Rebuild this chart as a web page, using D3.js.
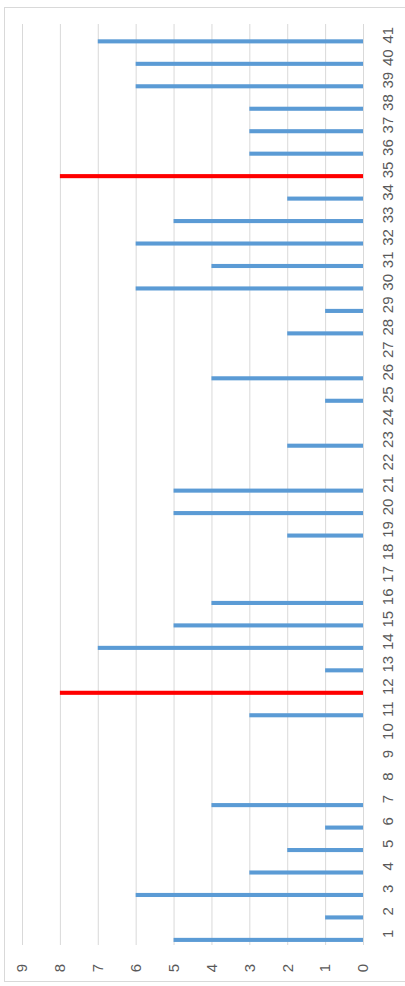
<!DOCTYPE html>
<html>
<head>
<meta charset="utf-8">
<script src="https://cdn.jsdelivr.net/npm/d3@7"></script>
<style>
  body { margin: 0; background: #fff; }
  svg { display: block; }
  .axis text { fill: #595959; font-family: "Liberation Sans", Arial, sans-serif; font-size: 15px; }
  .grid line { stroke: #d9d9d9; stroke-width: 1; }
</style>
</head>
<body>
<div id="chart"></div>
<script>
// categories 1..41
var categories = ["1","2","3","4","5","6","7","8","9","10","11","12","13","14","15","16","17","18","19","20",
                  "21","22","23","24","25","26","27","28","29","30","31","32","33","34","35","36","37","38","39","40","41"];
var values = [5,1,6,3,2,1,4,0,0,0,3,8,1,7,5,4,0,0,2,5,
              5,0,2,0,1,4,0,2,1,6,4,6,5,2,8,3,3,3,6,6,7];
var highlighted = ["12","35"];   // drawn in red
var seriesNames = ["Series1","Series2","Series3","Series4"]; // excel cluster slots, only first one filled
var valueTicks = [0,1,2,3,4,5,6,7,8,9];

var width = 405, height = 986;
var margin = {left: 22, bottom: 945, top: 24, right: 363};

// chart is an ordinary column chart turned 90 degrees counter-clockwise
var W = margin.bottom - margin.top;   // length of category axis
var H = margin.right - margin.left;   // length of value axis

var svg = d3.select("#chart").append("svg")
    .attr("width", width)
    .attr("height", height);

svg.append("rect")
    .attr("x", 4.5).attr("y", 7.5)
    .attr("width", 420).attr("height", 974)
    .attr("fill", "#fff")
    .attr("stroke", "#d9d9d9");

var g = svg.append("g")
    .attr("transform", "translate(" + margin.left + "," + margin.bottom + ") rotate(-90)");

var x = d3.scaleBand()
    .domain(categories)
    .range([0, W])
    .paddingInner(0).paddingOuter(0);

var slot = d3.scaleBand()
    .domain(seriesNames)
    .range([0, x.bandwidth()])
    .paddingInner(0).paddingOuter(0.75);

var y = d3.scaleLinear()
    .domain([0, 9])
    .range([H, 0]);

// grid + value labels
var yAxis = g.append("g")
    .attr("class", "axis grid")
    .call(d3.axisLeft(y).tickValues(valueTicks).tickSize(-W).tickPadding(19));
yAxis.select(".domain").remove();

// category labels
var xAxis = g.append("g")
    .attr("class", "axis")
    .attr("transform", "translate(0," + H + ")")
    .call(d3.axisBottom(x).tickSize(0).tickPadding(19));
xAxis.select(".domain").remove();

var data = categories.map(function(c, i) { return {cat: c, value: values[i]}; });

g.selectAll("rect.bar")
    .data(data.filter(function(d) { return d.value > 0; }))
    .enter().append("rect")
    .attr("class", "bar")
    .attr("x", function(d) { return x(d.cat) + slot(seriesNames[0]); })
    .attr("width", slot.bandwidth())
    .attr("y", function(d) { return y(d.value); })
    .attr("height", function(d) { return H - y(d.value); })
    .attr("fill", function(d) { return highlighted.indexOf(d.cat) >= 0 ? "#ff0000" : "#5b9bd5"; });
</script>
</body>
</html>
